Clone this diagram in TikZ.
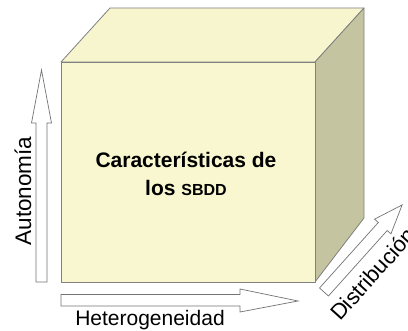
\documentclass[tikz,border=0pt]{standalone}
\usepackage{fontspec}
\setmainfont{Liberation Sans}
\begin{document}
\begin{tikzpicture}[x=1pt,y=-1pt,
  face/.style={draw=black!50, line width=0.8pt, line join=round},
  bigarrow/.style={draw=black!55, fill=white, line width=0.7pt, line join=miter},
  lbl/.style={inner sep=0pt, font=\fontsize{21}{25}\selectfont}]
\useasboundingbox (0,0) rectangle (408,331);
% cube
\coordinate (fA) at (61,62);
\coordinate (fB) at (315,62);
\coordinate (fC) at (315,282);
\coordinate (fD) at (61,282);
\coordinate (bA) at (110,8);
\coordinate (bB) at (364,8);
\coordinate (bC) at (364,218);
\draw[face, fill={rgb,255:red,247;green,245;blue,205}] (fA) -- (bA) -- (bB) -- (fB) -- cycle;
\draw[face, fill={rgb,255:red,196;green,196;blue,160}] (fB) -- (bB) -- (bC) -- (fC) -- cycle;
\draw[face, fill={rgb,255:red,248;green,247;blue,207}] (fA) -- (fB) -- (fC) -- (fD) -- cycle;
\node[lbl, align=center, font=\bfseries\fontsize{21}{28}\selectfont] (title) at (186,174)
  {Características de\\los {\fontsize{16}{28}\selectfont SBDD}};
% vertical arrow
\draw[bigarrow] (36,282) -- (36,123) -- (31.5,123) -- (41.5,70) -- (51.5,123) -- (47,123) -- (47,282) -- cycle;
\node[lbl, rotate=90, anchor=base, font=\fontsize{22.5}{26}\selectfont] (auto) at (31,191) {Autonomía};
% horizontal arrow
\draw[bigarrow] (61,294.5) -- (240,294.5) -- (240,289) -- (298,301) -- (240,312) -- (240,306) -- (61,306) -- cycle;
\node[lbl, anchor=base] (het) at (150,326) {Heterogeneidad};
% diagonal arrow
\begin{scope}[shift={(324,292)}, rotate=48.1]
\draw[bigarrow] (0,-6) -- (88,-6) -- (88,-11) -- (117,0) -- (88,11) -- (88,6) -- (0,6) -- cycle;
\end{scope}
\node[lbl, rotate=48, anchor=base west, font=\fontsize{22}{26}\selectfont] (dist) at (340,322) {Distribución};
\end{tikzpicture}
\end{document}
